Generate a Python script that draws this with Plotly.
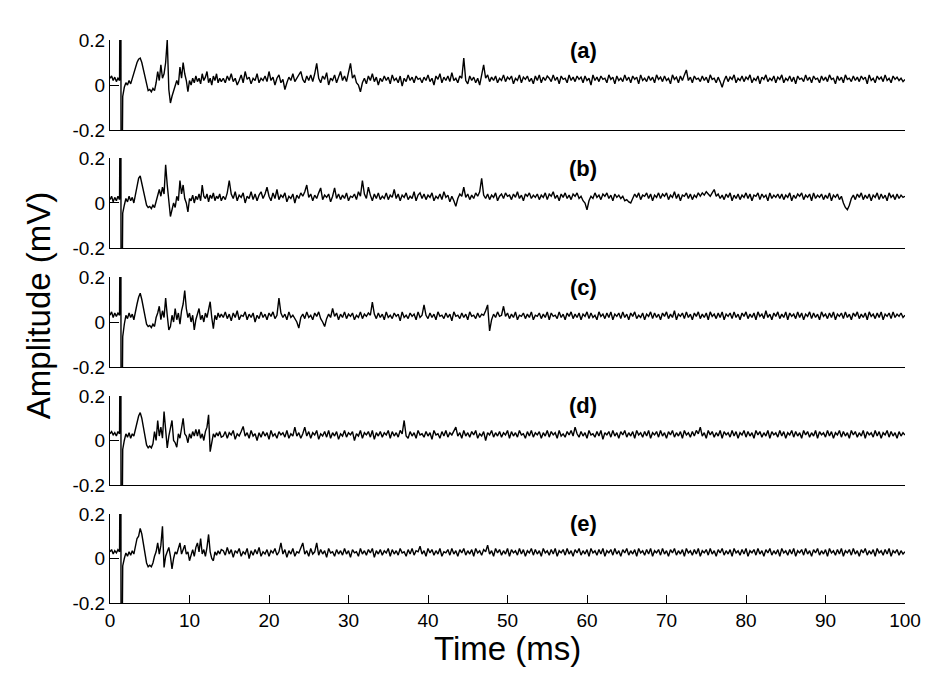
import numpy as np
import plotly.graph_objects as go

# ---------------- sampling grid (ms) ----------------
t_pre = [0.0, 0.2, 0.4, 0.6, 0.8, 1.0, 1.2]
t_art = [1.36, 1.40]
t_post = np.round(np.arange(1.6, 14.01, 0.2), 2).tolist()      # 63 samples
t_late = np.round(np.arange(14.25, 100.001, 0.25), 2).tolist()  # 344 samples
time_ms = t_pre + t_art + t_post + t_late

artifact = [1.0, -1.0]   # stimulus artifact (off scale, clipped)

x_ticks = [0, 10, 20, 30, 40, 50, 60, 70, 80, 90, 100]
y_ticks = [-0.2, 0, 0.2]
y_tick_text = ["-0.2", "0", "0.2"]
panel_labels = ["(a)", "(b)", "(c)", "(d)", "(e)"]

# ---------------- panel (a) ----------------
a_pre = [0.03, 0.04, 0.02, 0.035, 0.015, 0.03, 0.02]
a_post = [-0.05, -0.01, 0.01, 0.0, 0.02, 0.005, 0.03, 0.05, 0.07, 0.10,
          0.115, 0.12, 0.10, 0.07, 0.03, 0.0, -0.025, -0.02, -0.03, -0.015,
          -0.025, 0.01, 0.06, 0.02, 0.09, 0.03, 0.05, 0.10, 0.20, -0.02,
          -0.08, -0.05, -0.03, -0.01, 0.02, 0.0, 0.08, 0.03, 0.10, 0.05,
          0.02, -0.03, 0.02, 0.0, 0.03, 0.01, 0.04, 0.015, 0.03, 0.005,
          0.05, 0.02, 0.035, 0.06, 0.01, 0.03, 0.0, 0.04, 0.02, 0.05,
          0.01, 0.03, 0.015]
a_late = [
    0.03, 0.01, 0.04, 0.02, 0.05, 0.015, 0.03, 0.0, 0.02, 0.045, 0.01, 0.06, 0.025, 0.035, 0.005, 0.03, 0.02, 0.05, 0.01, 0.03,
    0.02, 0.04, 0.015, 0.06, 0.02, 0.035, 0.0, 0.03, 0.045, 0.01, 0.025, -0.02, 0.01, 0.035, 0.02, 0.05, 0.015, 0.03, 0.04, 0.06,
    0.025, 0.01, 0.04, 0.02, 0.045, 0.015, 0.05, 0.096, 0.03, 0.01, 0.04, 0.025, 0.055, 0.0, 0.03, 0.02, 0.045, 0.01, 0.035, 0.06,
    0.02, 0.04, 0.015, 0.05, 0.096, 0.03, 0.045, 0.01, 0.0, -0.03, 0.01, 0.03, 0.005, 0.04, 0.02, 0.05, 0.015, 0.035, 0.0, 0.03,
    0.015, 0.04, 0.02, 0.035, 0.005, 0.045, 0.02, 0.03, 0.01, 0.04, -0.005, 0.03, 0.015, 0.045, 0.02, 0.035, 0.01, 0.04, 0.025, 0.03,
    0.01, 0.035, 0.02, 0.045, 0.015, 0.03, 0.0, 0.04, 0.025, 0.05, 0.01, 0.035, 0.02, 0.04, 0.015, 0.055, 0.02, 0.03, 0.01, 0.04,
    0.03, 0.12, 0.02, 0.005, 0.04, 0.02, 0.035, 0.01, 0.03, 0.0, 0.04, 0.09, 0.03, 0.045, 0.015, 0.035, 0.02, 0.04, 0.01, 0.03,
    0.02, 0.045, 0.015, 0.035, 0.025, 0.04, 0.005, 0.03, 0.02, 0.045, 0.01, 0.035, 0.025, 0.04, 0.015, 0.03, 0.005, 0.04, 0.02, 0.045,
    0.01, 0.035, 0.02, 0.04, 0.03, 0.015, 0.045, 0.02, 0.035, 0.005, 0.04, 0.025, 0.03, 0.01, 0.045, 0.02, 0.035, 0.015, 0.04, 0.025,
    0.035, 0.01, 0.04, 0.02, 0.03, 0.0, 0.045, 0.02, 0.035, 0.015, 0.04, 0.025, 0.03, 0.01, 0.045, 0.025, 0.035, 0.005, 0.04, 0.02,
    0.03, 0.015, 0.045, 0.02, 0.035, 0.01, 0.04, 0.025, 0.035, 0.005, 0.045, 0.02, 0.03, 0.015, 0.04, 0.02, 0.035, 0.01, 0.045, 0.025,
    0.035, 0.015, 0.04, 0.02, 0.03, 0.005, 0.045, 0.025, 0.035, 0.01, 0.04, 0.02, 0.045, 0.067, 0.02, 0.035, 0.01, 0.04, 0.025, 0.03,
    0.015, 0.04, 0.02, 0.035, 0.01, 0.045, 0.025, 0.03, 0.01, 0.035, 0.015, -0.01, 0.02, 0.04, 0.015, 0.035, 0.025, 0.045, 0.01, 0.03,
    0.02, 0.04, 0.015, 0.035, 0.025, 0.045, 0.01, 0.03, 0.02, 0.04, 0.005, 0.035, 0.025, 0.045, 0.015, 0.03, 0.02, 0.04, 0.01, 0.035,
    0.025, 0.045, 0.01, 0.03, 0.02, 0.04, 0.015, 0.035, 0.005, 0.04, 0.025, 0.03, 0.015, 0.045, 0.02, 0.035, 0.01, 0.04, 0.025, 0.03,
    0.01, 0.04, 0.02, 0.035, 0.015, 0.045, 0.025, 0.03, 0.005, 0.04, 0.02, 0.035, 0.01, 0.045, 0.025, 0.03, 0.015, 0.04, 0.02, 0.035,
    0.015, 0.04, 0.025, 0.035, 0.005, 0.045, 0.02, 0.03, 0.01, 0.04, 0.025, 0.035, 0.015, 0.045, 0.02, 0.03, 0.01, 0.04, 0.025, 0.035,
    0.02, 0.03, 0.015, 0.025]

# ---------------- panel (b) ----------------
b_pre = [0.015, 0.03, 0.005, 0.025, 0.01, 0.03, 0.015]
b_post = [-0.045, -0.01, 0.02, 0.005, 0.03, 0.01, 0.025, 0.0, 0.04, 0.07,
          0.11, 0.12, 0.09, 0.05, 0.02, -0.01, -0.02, -0.015, -0.025, -0.01,
          -0.02, 0.01, 0.04, 0.06, 0.03, 0.07, 0.04, 0.17, 0.08, 0.0,
          -0.06, -0.03, 0.0, -0.02, 0.03, 0.01, 0.10, 0.04, 0.08, 0.02,
          0.0, -0.04, 0.02, 0.01, 0.035, 0.0, 0.03, 0.015, 0.04, 0.01,
          0.08, 0.03, 0.02, 0.04, 0.005, 0.035, 0.02, 0.045, 0.01, 0.03,
          0.02, 0.04, 0.01]
b_late = [
    0.03, 0.015, 0.045, 0.10, 0.04, 0.02, 0.05, 0.01, 0.035, 0.025, 0.045, 0.0, 0.03, 0.02, 0.05, 0.015, 0.04, 0.01, 0.035, 0.05,
    0.02, 0.04, 0.07, 0.03, 0.01, 0.045, 0.02, 0.06, 0.015, 0.035, 0.025, 0.045, 0.005, 0.03, 0.02, 0.04, 0.0, 0.035, 0.02, 0.045,
    0.03, 0.05, 0.08, 0.025, 0.04, 0.01, 0.035, 0.02, 0.045, 0.067, 0.015, 0.035, 0.025, 0.04, 0.005, 0.03, 0.067, 0.02, 0.04, 0.015,
    0.035, 0.02, 0.045, 0.01, 0.03, 0.025, 0.04, 0.015, 0.05, 0.03, 0.10, 0.04, 0.02, 0.07, 0.035, 0.01, 0.04, 0.02, 0.045, 0.015,
    0.03, 0.02, 0.045, 0.015, 0.035, 0.025, 0.06, 0.02, 0.04, 0.01, 0.035, 0.025, 0.045, 0.015, 0.03, 0.02, 0.05, 0.01, 0.035, 0.045,
    0.02, 0.04, 0.015, 0.035, 0.025, 0.045, 0.01, 0.03, 0.02, 0.04, 0.015, 0.05, 0.025, 0.035, 0.005, 0.03, 0.01, -0.015, 0.02, 0.04,
    0.03, 0.07, 0.025, 0.04, 0.015, 0.035, 0.02, 0.045, 0.03, 0.05, 0.11, 0.035, 0.02, 0.04, 0.015, 0.035, 0.025, 0.045, 0.01, 0.03,
    0.04, 0.02, 0.045, 0.03, 0.035, 0.015, 0.04, 0.025, 0.05, 0.02, 0.035, 0.01, 0.04, 0.03, 0.045, 0.02, 0.035, 0.025, 0.04, 0.015,
    0.035, 0.025, 0.045, 0.015, 0.04, 0.03, 0.05, 0.02, 0.035, 0.01, 0.04, 0.025, 0.045, 0.02, 0.035, 0.015, 0.04, 0.03, 0.045, 0.02,
    0.03, 0.01, 0.0, -0.03, 0.01, 0.03, 0.02, 0.045, 0.025, 0.035, 0.015, 0.04, 0.03, 0.045, 0.02, 0.035, 0.01, 0.04, 0.025, 0.035,
    0.02, 0.03, 0.01, 0.015, 0.005, 0.0, 0.02, 0.04, 0.025, 0.045, 0.015, 0.035, 0.03, 0.045, 0.02, 0.04, 0.01, 0.035, 0.025, 0.045,
    0.02, 0.04, 0.03, 0.045, 0.015, 0.035, 0.025, 0.05, 0.02, 0.04, 0.01, 0.035, 0.03, 0.045, 0.02, 0.04, 0.015, 0.035, 0.025, 0.045,
    0.03, 0.045, 0.035, 0.05, 0.04, 0.03, 0.045, 0.06, 0.03, 0.04, 0.02, 0.035, 0.015, 0.04, 0.025, 0.045, 0.01, 0.035, 0.02, 0.04,
    0.015, 0.035, 0.025, 0.045, 0.02, 0.04, 0.01, 0.035, 0.03, 0.045, 0.015, 0.04, 0.025, 0.035, 0.01, 0.045, 0.02, 0.035, 0.025, 0.04,
    0.02, 0.04, 0.015, 0.035, 0.025, 0.045, 0.01, 0.035, 0.02, 0.04, 0.03, 0.045, 0.015, 0.035, 0.025, 0.04, 0.01, 0.045, 0.02, 0.035,
    0.025, 0.04, 0.015, 0.035, 0.02, 0.045, 0.01, 0.035, 0.025, 0.04, 0.015, 0.03, 0.0, -0.02, -0.03, -0.01, 0.02, 0.035, 0.015, 0.04,
    0.025, 0.045, 0.015, 0.035, 0.02, 0.04, 0.01, 0.035, 0.025, 0.045, 0.015, 0.04, 0.02, 0.035, 0.01, 0.045, 0.025, 0.035, 0.015, 0.04,
    0.02, 0.035, 0.025, 0.03]

# ---------------- panel (c) ----------------
c_pre = [0.03, 0.045, 0.02, 0.04, 0.025, 0.04, 0.03]
c_post = [-0.065, -0.01, 0.03, 0.015, 0.04, 0.02, 0.035, 0.01, 0.05, 0.08,
          0.11, 0.128, 0.10, 0.06, 0.02, -0.01, -0.02, -0.015, -0.025, -0.01,
          -0.02, 0.02, 0.04, 0.07, 0.01, 0.05, 0.02, 0.106, 0.03, -0.035,
          -0.02, 0.03, 0.0, 0.06, 0.01, 0.04, -0.01, 0.05, 0.08, 0.14,
          0.06, 0.02, 0.04, 0.0, 0.03, -0.035, 0.01, 0.04, 0.06, 0.01,
          0.03, 0.0, 0.04, 0.02, 0.05, 0.09, 0.02, -0.03, 0.03, 0.01,
          0.04, 0.02, 0.035]
c_late = [
    0.02, 0.045, 0.015, 0.035, 0.005, 0.04, 0.02, 0.05, 0.01, 0.03, 0.025, 0.045, 0.01, 0.035, 0.02, 0.04, 0.0, 0.03, 0.015, 0.045,
    0.02, 0.035, 0.01, 0.04, 0.025, 0.045, 0.015, 0.03, 0.106, 0.04, 0.02, 0.035, 0.01, 0.045, 0.02, 0.03, 0.015, 0.0, -0.027, 0.02,
    0.035, 0.015, 0.045, 0.02, 0.03, 0.01, 0.04, 0.025, 0.045, 0.015, 0.0, -0.02, 0.015, 0.035, 0.02, 0.06, 0.025, 0.04, 0.01, 0.035,
    0.02, 0.045, 0.015, 0.035, 0.025, 0.04, 0.01, 0.03, 0.02, 0.045, 0.015, 0.035, 0.025, 0.04, 0.03, 0.088, 0.035, 0.015, 0.04, 0.02,
    0.035, 0.01, 0.045, 0.02, 0.03, 0.015, 0.04, 0.025, 0.035, 0.005, 0.045, 0.02, 0.03, 0.015, 0.04, 0.025, 0.035, 0.01, 0.045, 0.02,
    0.03, 0.076, 0.03, 0.015, 0.04, 0.02, 0.035, 0.01, 0.045, 0.025, 0.03, 0.015, 0.04, 0.02, 0.035, 0.005, 0.045, 0.025, 0.03, 0.015,
    0.04, 0.02, 0.035, 0.01, 0.045, 0.025, 0.03, 0.015, 0.04, 0.02, 0.035, 0.03, 0.05, 0.076, -0.04, 0.01, 0.035, 0.02, 0.045, 0.025,
    0.03, 0.07, 0.025, 0.04, 0.015, 0.035, 0.02, 0.045, 0.01, 0.03, 0.025, 0.04, 0.015, 0.035, 0.02, 0.045, 0.01, 0.03, 0.025, 0.04,
    0.015, 0.035, 0.02, 0.045, 0.01, 0.04, 0.025, 0.03, 0.015, 0.045, 0.02, 0.035, 0.01, 0.04, 0.025, 0.045, 0.015, 0.035, 0.02, 0.04,
    0.01, 0.035, 0.025, 0.045, 0.015, 0.04, 0.02, 0.03, 0.01, 0.045, 0.025, 0.035, 0.015, 0.04, 0.02, 0.045, 0.01, 0.035, 0.025, 0.04,
    0.015, 0.045, 0.02, 0.035, 0.01, 0.04, 0.025, 0.045, 0.015, 0.03, 0.02, 0.04, 0.01, 0.035, 0.025, 0.045, 0.015, 0.04, 0.02, 0.035,
    0.01, 0.04, 0.025, 0.045, 0.015, 0.035, 0.02, 0.05, 0.01, 0.035, 0.025, 0.04, 0.015, 0.045, 0.02, 0.035, 0.01, 0.04, 0.025, 0.045,
    0.015, 0.035, 0.02, 0.04, 0.01, 0.045, 0.025, 0.035, 0.015, 0.04, 0.02, 0.045, 0.01, 0.035, 0.025, 0.04, 0.015, 0.045, 0.02, 0.035,
    0.01, 0.04, 0.025, 0.045, 0.015, 0.035, 0.02, 0.04, 0.01, 0.045, 0.025, 0.035, 0.015, 0.05, 0.02, 0.035, 0.01, 0.04, 0.025, 0.045,
    0.015, 0.035, 0.02, 0.045, 0.01, 0.04, 0.025, 0.035, 0.015, 0.045, 0.02, 0.04, 0.01, 0.035, 0.025, 0.045, 0.015, 0.04, 0.02, 0.035,
    0.01, 0.045, 0.025, 0.035, 0.015, 0.04, 0.02, 0.045, 0.01, 0.035, 0.025, 0.04, 0.015, 0.045, 0.02, 0.035, 0.01, 0.04, 0.025, 0.045,
    0.015, 0.035, 0.02, 0.04, 0.01, 0.045, 0.025, 0.035, 0.015, 0.04, 0.02, 0.045, 0.01, 0.035, 0.025, 0.04, 0.015, 0.045, 0.02, 0.035,
    0.025, 0.04, 0.02, 0.03]

# ---------------- panel (d) ----------------
d_pre = [0.03, 0.04, 0.025, 0.035, 0.02, 0.04, 0.03]
d_post = [-0.04, 0.0, 0.03, 0.015, 0.035, 0.01, 0.03, 0.02, 0.05, 0.08,
          0.11, 0.125, 0.10, 0.06, 0.02, -0.02, -0.033, -0.025, -0.033, -0.015,
          0.04, 0.0, 0.09, 0.02, 0.06, 0.01, 0.13, 0.03, -0.033, 0.02,
          0.05, 0.09, 0.0, -0.01, -0.03, 0.03, 0.01, 0.06, 0.10, 0.03,
          0.02, -0.01, 0.03, 0.01, 0.04, 0.02, 0.05, 0.02, 0.05, 0.01,
          0.03, 0.0, 0.04, 0.06, 0.115, -0.05, 0.0, 0.03, 0.015, 0.035,
          0.02, 0.04, 0.015]
d_late = [
    0.02, 0.04, 0.01, 0.035, 0.025, 0.045, 0.005, 0.03, 0.02, 0.04, 0.063, 0.02, 0.035, 0.01, 0.045, 0.02, 0.03, 0.0, 0.035, 0.015,
    0.04, 0.02, 0.035, 0.005, 0.045, 0.02, 0.03, 0.01, 0.04, 0.025, 0.035, 0.015, 0.045, 0.01, 0.03, 0.02, 0.06, 0.02, 0.035, 0.01,
    0.03, 0.06, 0.02, 0.04, 0.01, 0.035, 0.025, 0.045, 0.005, 0.03, 0.02, 0.04, 0.015, 0.045, 0.01, 0.035, 0.02, 0.04, 0.005, 0.03,
    0.02, 0.045, 0.015, 0.035, 0.025, 0.04, 0.0, 0.03, 0.02, 0.045, 0.01, 0.035, 0.025, 0.04, 0.015, 0.045, 0.005, 0.035, 0.02, 0.04,
    0.015, 0.035, 0.025, 0.045, 0.01, 0.04, 0.02, 0.035, 0.015, 0.045, 0.03, 0.09, 0.02, 0.01, 0.04, 0.02, 0.035, 0.01, 0.045, 0.025,
    0.03, 0.015, 0.04, 0.02, 0.035, 0.005, 0.045, 0.025, 0.03, 0.01, 0.04, 0.02, 0.045, 0.015, 0.035, 0.025, 0.04, 0.06, 0.02, 0.035,
    0.01, 0.045, 0.02, 0.035, 0.015, 0.04, 0.025, 0.045, 0.01, 0.03, 0.02, 0.04, 0.0, 0.035, 0.025, 0.045, 0.015, 0.035, 0.02, 0.04,
    0.015, 0.035, 0.025, 0.045, 0.01, 0.04, 0.02, 0.035, 0.015, 0.045, 0.025, 0.03, 0.01, 0.04, 0.02, 0.045, 0.015, 0.035, 0.025, 0.04,
    0.01, 0.035, 0.02, 0.045, 0.015, 0.04, 0.025, 0.035, 0.01, 0.045, 0.02, 0.03, 0.015, 0.04, 0.025, 0.045, 0.02, 0.06, 0.03, 0.015,
    0.04, 0.02, 0.035, 0.01, 0.045, 0.025, 0.03, 0.015, 0.04, 0.02, 0.045, 0.005, 0.035, 0.025, 0.04, 0.015, 0.045, 0.02, 0.035, 0.01,
    0.04, 0.025, 0.045, 0.015, 0.035, 0.02, 0.04, 0.01, 0.045, 0.025, 0.035, 0.015, 0.04, 0.02, 0.045, 0.01, 0.035, 0.025, 0.04, 0.015,
    0.045, 0.02, 0.035, 0.01, 0.04, 0.025, 0.045, 0.015, 0.035, 0.02, 0.04, 0.01, 0.045, 0.025, 0.035, 0.015, 0.04, 0.02, 0.045, 0.03,
    0.06, 0.02, 0.035, 0.01, 0.045, 0.025, 0.04, 0.015, 0.035, 0.02, 0.045, 0.01, 0.04, 0.025, 0.035, 0.015, 0.045, 0.02, 0.04, 0.01,
    0.035, 0.025, 0.045, 0.015, 0.04, 0.02, 0.035, 0.01, 0.045, 0.025, 0.04, 0.015, 0.035, 0.02, 0.045, 0.01, 0.04, 0.025, 0.035, 0.015,
    0.045, 0.02, 0.04, 0.01, 0.035, 0.025, 0.045, 0.015, 0.04, 0.02, 0.035, 0.01, 0.045, 0.025, 0.04, 0.015, 0.035, 0.02, 0.045, 0.01,
    0.04, 0.025, 0.035, 0.015, 0.045, 0.02, 0.04, 0.01, 0.035, 0.025, 0.045, 0.015, 0.04, 0.02, 0.035, 0.01, 0.045, 0.025, 0.04, 0.015,
    0.035, 0.02, 0.045, 0.01, 0.04, 0.025, 0.035, 0.015, 0.045, 0.02, 0.04, 0.01, 0.035, 0.025, 0.045, 0.015, 0.04, 0.02, 0.035, 0.01,
    0.04, 0.02, 0.035, 0.025]

# ---------------- panel (e) ----------------
e_pre = [0.03, 0.04, 0.02, 0.035, 0.025, 0.04, 0.03]
e_post = [-0.033, 0.0, 0.025, 0.01, 0.03, 0.015, 0.035, 0.02, 0.05, 0.09,
          0.10, 0.135, 0.11, 0.07, 0.02, -0.02, -0.037, -0.03, -0.037, -0.02,
          0.01, 0.03, 0.07, 0.02, 0.06, 0.145, -0.04, 0.01, 0.03, 0.05,
          0.01, -0.047, 0.0, 0.03, 0.02, 0.05, 0.07, 0.02, 0.04, 0.06,
          0.02, 0.03, -0.01, 0.02, 0.04, 0.01, 0.05, 0.07, 0.03, 0.09,
          0.02, 0.04, 0.01, 0.05, 0.108, 0.03, 0.0, -0.01, 0.03, 0.015,
          0.035, 0.02, 0.04]
e_late = [
    0.035, 0.015, 0.05, 0.02, 0.04, 0.005, 0.035, 0.025, 0.045, 0.01, 0.03, 0.02, 0.045, 0.0, 0.035, 0.015, 0.04, 0.02, 0.05, 0.01,
    0.03, 0.02, 0.04, 0.01, 0.035, 0.025, 0.045, 0.015, 0.03, 0.07, 0.02, 0.04, 0.005, 0.035, 0.02, 0.045, 0.01, 0.03, 0.025, 0.045,
    0.07, 0.02, 0.035, 0.01, 0.045, 0.02, 0.03, 0.07, 0.015, 0.04, 0.02, 0.035, 0.005, 0.045, 0.025, 0.03, 0.01, 0.04, 0.02, 0.035,
    0.015, 0.045, 0.02, 0.035, 0.005, 0.04, 0.025, 0.03, 0.01, 0.045, 0.02, 0.035, 0.015, 0.04, 0.025, 0.045, 0.005, 0.035, 0.02, 0.04,
    0.015, 0.035, 0.025, 0.045, 0.01, 0.04, 0.02, 0.035, 0.015, 0.045, 0.025, 0.03, 0.01, 0.04, 0.02, 0.045, 0.015, 0.035, 0.03, 0.055,
    0.02, 0.035, 0.01, 0.045, 0.025, 0.04, 0.015, 0.035, 0.02, 0.045, 0.01, 0.03, 0.025, 0.04, 0.015, 0.045, 0.02, 0.035, 0.01, 0.04,
    0.025, 0.045, 0.015, 0.035, 0.02, 0.04, 0.01, 0.045, 0.025, 0.035, 0.015, 0.04, 0.03, 0.06, 0.02, 0.035, 0.01, 0.045, 0.025, 0.04,
    0.015, 0.035, 0.02, 0.045, 0.01, 0.04, 0.025, 0.035, 0.015, 0.045, 0.02, 0.04, 0.01, 0.035, 0.025, 0.045, 0.015, 0.04, 0.02, 0.035,
    0.01, 0.045, 0.025, 0.035, 0.015, 0.04, 0.02, 0.045, 0.01, 0.035, 0.025, 0.04, 0.015, 0.045, 0.02, 0.035, 0.01, 0.04, 0.025, 0.045,
    0.015, 0.035, 0.02, 0.04, 0.01, 0.045, 0.025, 0.035, 0.015, 0.04, 0.02, 0.045, 0.01, 0.035, 0.025, 0.04, 0.015, 0.045, 0.02, 0.035,
    0.01, 0.04, 0.025, 0.045, 0.015, 0.035, 0.02, 0.04, 0.01, 0.045, 0.025, 0.035, 0.015, 0.04, 0.02, 0.045, 0.01, 0.035, 0.025, 0.04,
    0.015, 0.045, 0.02, 0.035, 0.01, 0.04, 0.025, 0.045, 0.015, 0.035, 0.02, 0.04, 0.01, 0.045, 0.025, 0.035, 0.015, 0.04, 0.02, 0.045,
    0.01, 0.035, 0.025, 0.04, 0.015, 0.045, 0.02, 0.035, 0.01, 0.04, 0.025, 0.045, 0.015, 0.035, 0.02, 0.04, 0.01, 0.045, 0.025, 0.035,
    0.015, 0.04, 0.02, 0.045, 0.01, 0.035, 0.025, 0.04, 0.015, 0.045, 0.02, 0.035, 0.01, 0.04, 0.025, 0.045, 0.015, 0.035, 0.02, 0.04,
    0.01, 0.045, 0.025, 0.035, 0.015, 0.04, 0.02, 0.045, 0.01, 0.035, 0.025, 0.04, 0.015, 0.045, 0.02, 0.035, 0.01, 0.04, 0.025, 0.045,
    0.015, 0.035, 0.02, 0.04, 0.01, 0.045, 0.025, 0.035, 0.015, 0.04, 0.02, 0.045, 0.01, 0.035, 0.025, 0.04, 0.015, 0.045, 0.02, 0.035,
    0.01, 0.04, 0.025, 0.045, 0.015, 0.035, 0.02, 0.04, 0.01, 0.045, 0.025, 0.035, 0.015, 0.04, 0.02, 0.045, 0.01, 0.035, 0.025, 0.04,
    0.015, 0.035, 0.02, 0.03]

panels = [
    (a_pre, a_post, a_late),
    (b_pre, b_post, b_late),
    (c_pre, c_post, c_late),
    (d_pre, d_post, d_late),
    (e_pre, e_post, e_late),
]

# vertical domains of the five stacked panels (top to bottom)
domains = [[0.8401, 1.0], [0.6306, 0.7904], [0.4192, 0.5790],
           [0.2096, 0.3677], [0.0, 0.1581]]

FONT = "Arial, 'Liberation Sans', sans-serif"

fig = go.Figure()
layout_axes = {}
annotations = []
for i, (pre, post, late) in enumerate(panels):
    n = i + 1
    xa = "x" if n == 1 else f"x{n}"
    ya = "y" if n == 1 else f"y{n}"
    values = pre + artifact + post + late
    assert len(values) == len(time_ms), (n, len(values), len(time_ms))
    fig.add_trace(go.Scatter(
        x=time_ms, y=values, mode="lines",
        line=dict(color="black", width=1.4),
        xaxis=xa, yaxis=ya, showlegend=False, hoverinfo="skip"))
    bottom = (n == 5)
    layout_axes["xaxis" if n == 1 else f"xaxis{n}"] = dict(
        domain=[0, 1], anchor=ya, range=[0, 100],
        showline=True, linecolor="black", linewidth=1, mirror=False,
        showgrid=False, zeroline=False,
        ticks="inside" if bottom else "", ticklen=8, tickwidth=1,
        tickcolor="black",
        tickvals=x_ticks if bottom else [],
        showticklabels=bottom,
        tickfont=dict(family=FONT, size=19, color="black"))
    layout_axes["yaxis" if n == 1 else f"yaxis{n}"] = dict(
        domain=domains[i], anchor=xa, range=[-0.2, 0.2],
        showline=True, linecolor="black", linewidth=1, mirror=False,
        showgrid=False, zeroline=False,
        ticks="inside", ticklen=9, tickwidth=1, tickcolor="black",
        tickvals=y_ticks, ticktext=y_tick_text,
        tickfont=dict(family=FONT, size=19, color="black"))
    annotations.append(dict(
        x=59.5, y=0.155, xref=xa, yref=ya, text=f"<b>{panel_labels[i]}</b>",
        showarrow=False, xanchor="center", yanchor="middle",
        font=dict(family=FONT, size=22, color="black")))

annotations.append(dict(
    x=0.5, y=-0.08, xref="paper", yref="paper", text="Time (ms)",
    showarrow=False, xanchor="center", yanchor="middle",
    font=dict(family=FONT, size=33, color="black")))
annotations.append(dict(
    x=-0.0906, y=0.529, xref="paper", yref="paper", text="Amplitude (mV)",
    textangle=-90, showarrow=False, xanchor="center", yanchor="middle",
    font=dict(family=FONT, size=33, color="black")))

# the page body adds an 8 px offset, so the figure is 8 px smaller
fig.update_layout(
    width=933, height=667,
    margin=dict(l=102, r=36, t=32, b=72, pad=0),
    paper_bgcolor="white", plot_bgcolor="white",
    annotations=annotations,
    **layout_axes)

fig.write_html("out.html")
